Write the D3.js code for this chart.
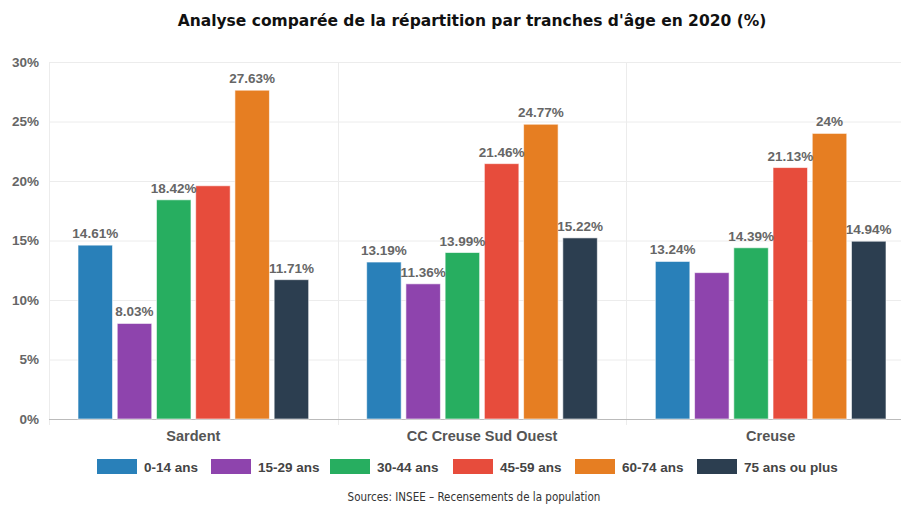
<!DOCTYPE html>
<html lang="fr">
<head>
    <meta charset="utf-8">
    <style>
        body { margin: 0; background: #fff; }
        svg { display: block; font-family: "Liberation Sans", Arial, sans-serif; }
        .grid line { stroke: #ececec; }
        .vals text { font-weight: bold; font-size: 13.5px; fill: #666; }
    </style>
    <script src="https://d3js.org/d3.v7.min.js"></script>
</head>
<body>
    <svg id="chart" width="901" height="506"></svg>

    <script>
        // Data
        const categories = ["Sardent", "CC Creuse Sud Ouest", "Creuse"];
        const ageGroups = ["0-14 ans", "15-29 ans", "30-44 ans", "45-59 ans", "60-74 ans", "75 ans ou plus"];
        const colors = ["#2980b9", "#8e44ad", "#27ae60", "#e74c3c", "#e67e22", "#2c3e50"];
        // one row per category, in ageGroups order
        const sardent = [14.61, 8.03, 18.42, 19.6, 27.63, 11.71];
        const ccCreuse = [13.19, 11.36, 13.99, 21.46, 24.77, 15.22];
        const creuse = [13.24, 12.3, 14.39, 21.13, 24, 14.94];
        // labels the original hides (overlapping)
        const hiddenLabels = [["Sardent", "45-59 ans"], ["Creuse", "15-29 ans"]];
        const yTicks = [0, 5, 10, 15, 20, 25, 30];

        const values = [sardent, ccCreuse, creuse];
        const rows = categories.map((c, i) => ({
            cat: c,
            vals: ageGroups.map((g, j) => ({ cat: c, group: g, value: values[i][j], color: colors[j] }))
        }));

        const svg = d3.select("#chart");
        const margin = { left: 49, top: 62, bottom: 419 };
        const plotRight = 915;

        const x0 = d3.scaleBand().domain(categories).range([margin.left, plotRight]).padding(0);
        const x1 = d3.scaleBand().domain(ageGroups)
            .range([29, x0.bandwidth() - 29]).paddingInner(0.12).paddingOuter(0);
        const y = d3.scaleLinear().domain([0, 30]).range([margin.bottom, margin.top]);

        // Title
        svg.append("text")
            .attr("x", 472).attr("y", 26)
            .attr("text-anchor", "middle")
            .style("font-family", "'DejaVu Sans', Verdana, sans-serif")
            .style("font-weight", "bold").style("font-size", "15.5px")
            .attr("fill", "#111")
            .text("Analyse comparée de la répartition par tranches d'âge en 2020 (%)");

        // Horizontal grid
        svg.append("g").attr("class", "grid")
            .selectAll("line").data(yTicks.slice(1)).join("line")
            .attr("x1", margin.left).attr("x2", plotRight)
            .attr("y1", d => y(d) + 0.5).attr("y2", d => y(d) + 0.5);

        // Vertical separators between categories + left axis
        svg.append("g").attr("class", "grid")
            .selectAll("line").data(categories).join("line")
            .attr("x1", d => Math.round(x0(d)) + 0.5).attr("x2", d => Math.round(x0(d)) + 0.5)
            .attr("y1", margin.top).attr("y2", margin.bottom + 6)
            .attr("stroke", "#e2e2e2");

        // baseline
        svg.append("line")
            .attr("x1", margin.left).attr("x2", plotRight)
            .attr("y1", y(0) + 0.5).attr("y2", y(0) + 0.5)
            .attr("stroke", "#bbb");

        // Y axis
        const yAxis = d3.axisLeft(y).tickValues(yTicks).tickFormat(d => d + "%").tickSize(0).tickPadding(10);
        const ya = svg.append("g").attr("transform", `translate(${margin.left},0)`).call(yAxis);
        ya.select(".domain").remove();
        ya.selectAll("text")
            .style("font-family", "'Liberation Sans', Arial, sans-serif")
            .style("font-weight", "bold").style("font-size", "13.5px").attr("fill", "#666");

        // X axis labels
        const xAxis = d3.axisBottom(x0).tickSize(0).tickPadding(12);
        const xa = svg.append("g").attr("transform", `translate(0,${y(0)})`).call(xAxis);
        xa.select(".domain").remove();
        xa.selectAll("text")
            .style("font-family", "'Liberation Sans', Arial, sans-serif")
            .style("font-weight", "bold").style("font-size", "14.5px").attr("fill", "#555");

        // Bars
        const groups = svg.append("g").selectAll("g").data(rows).join("g")
            .attr("transform", d => `translate(${x0(d.cat)},0)`);

        groups.selectAll("rect").data(d => d.vals).join("rect")
            .attr("x", d => x1(d.group))
            .attr("y", d => y(d.value))
            .attr("width", x1.bandwidth())
            .attr("height", d => y(0) - y(d.value))
            .attr("fill", d => d.color)
            .attr("stroke", "rgba(255,255,255,0.6)")
            .attr("stroke-width", 1);

        // Value labels
        const isHidden = d => hiddenLabels.some(h => h[0] === d.cat && h[1] === d.group);
        groups.append("g").attr("class", "vals")
            .selectAll("text").data(d => d.vals.filter(v => !isHidden(v))).join("text")
            .attr("x", d => x1(d.group) + x1.bandwidth() / 2)
            .attr("y", d => y(d.value) - 7)
            .attr("text-anchor", "middle")
            .text(d => d3.format("~")(d.value) + "%");

        // Legend
        const legendX = [97, 211, 330, 453, 575, 697];
        const legend = svg.append("g").selectAll("g").data(ageGroups).join("g")
            .attr("transform", (d, i) => `translate(${legendX[i]},459)`);
        legend.append("rect")
            .attr("width", 40).attr("height", 15)
            .attr("fill", (d, i) => colors[i]);
        legend.append("text")
            .attr("x", 47).attr("y", 12.5)
            .style("font-weight", "bold").style("font-size", "13.5px")
            .attr("fill", "#444")
            .text(d => d);

        // Source
        svg.append("text")
            .attr("x", 474).attr("y", 501)
            .attr("text-anchor", "middle")
            .style("font-family", "'DejaVu Sans Condensed', 'DejaVu Sans', sans-serif")
            .style("font-size", "11.5px").attr("fill", "#333")
            .text("Sources: INSEE – Recensements de la population");
    </script>
</body>
</html>
